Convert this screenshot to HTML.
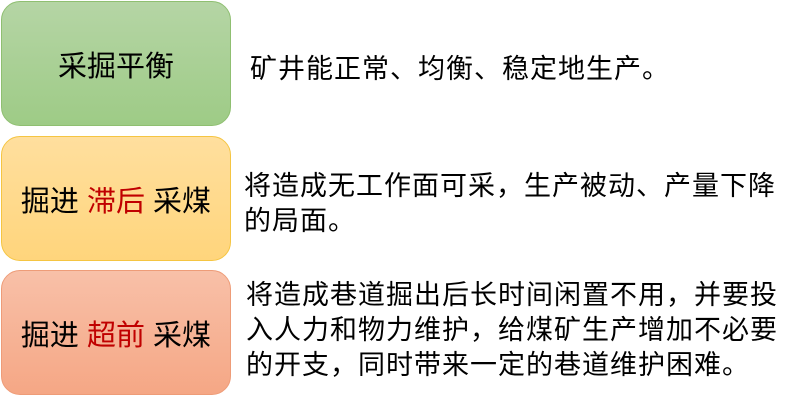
<!DOCTYPE html>
<html><head><meta charset="utf-8"><style>
body{margin:0;width:798px;height:400px;background:#fff;position:relative;overflow:hidden;font-family:"Liberation Sans","Noto Sans CJK SC",sans-serif;}
.b{position:absolute;left:1px;width:230px;border-radius:19px;display:flex;align-items:center;justify-content:center;font-size:29px;color:#000;box-sizing:border-box;}
.r{color:#c00000;}
.t{position:absolute;font-size:27px;line-height:35px;white-space:nowrap;color:#000;letter-spacing:1px;}
</style></head><body>
<div class="b" style="top:1px;height:125px;background:linear-gradient(#b5d5a5,#9ecb86);border:1px solid #8fbf71;">采掘平衡</div>
<div class="b" style="top:136px;height:125px;background:linear-gradient(#ffdf9e,#ffd57c);border:1px solid #f5c542;">掘进&nbsp;<span class="r">滞后</span>&nbsp;采煤</div>
<div class="b" style="top:270px;height:125px;background:linear-gradient(#f8c0a8,#f5a785);border:1px solid #ee9c78;">掘进&nbsp;<span class="r">超前</span>&nbsp;采煤</div>
<div class="t" style="left:250px;top:52px;">矿井能正常、均衡、稳定地生产。</div>
<div class="t" style="left:244px;top:169px;">将造成无工作面可采，生产被动、产量下降<br>的局面。</div>
<div class="t" style="left:246px;top:278px;">将造成巷道掘出后长时间闲置不用，并要投<br>入人力和物力维护，给煤矿生产增加不必要<br>的开支，同时带来一定的巷道维护困难。</div>
</body></html>
